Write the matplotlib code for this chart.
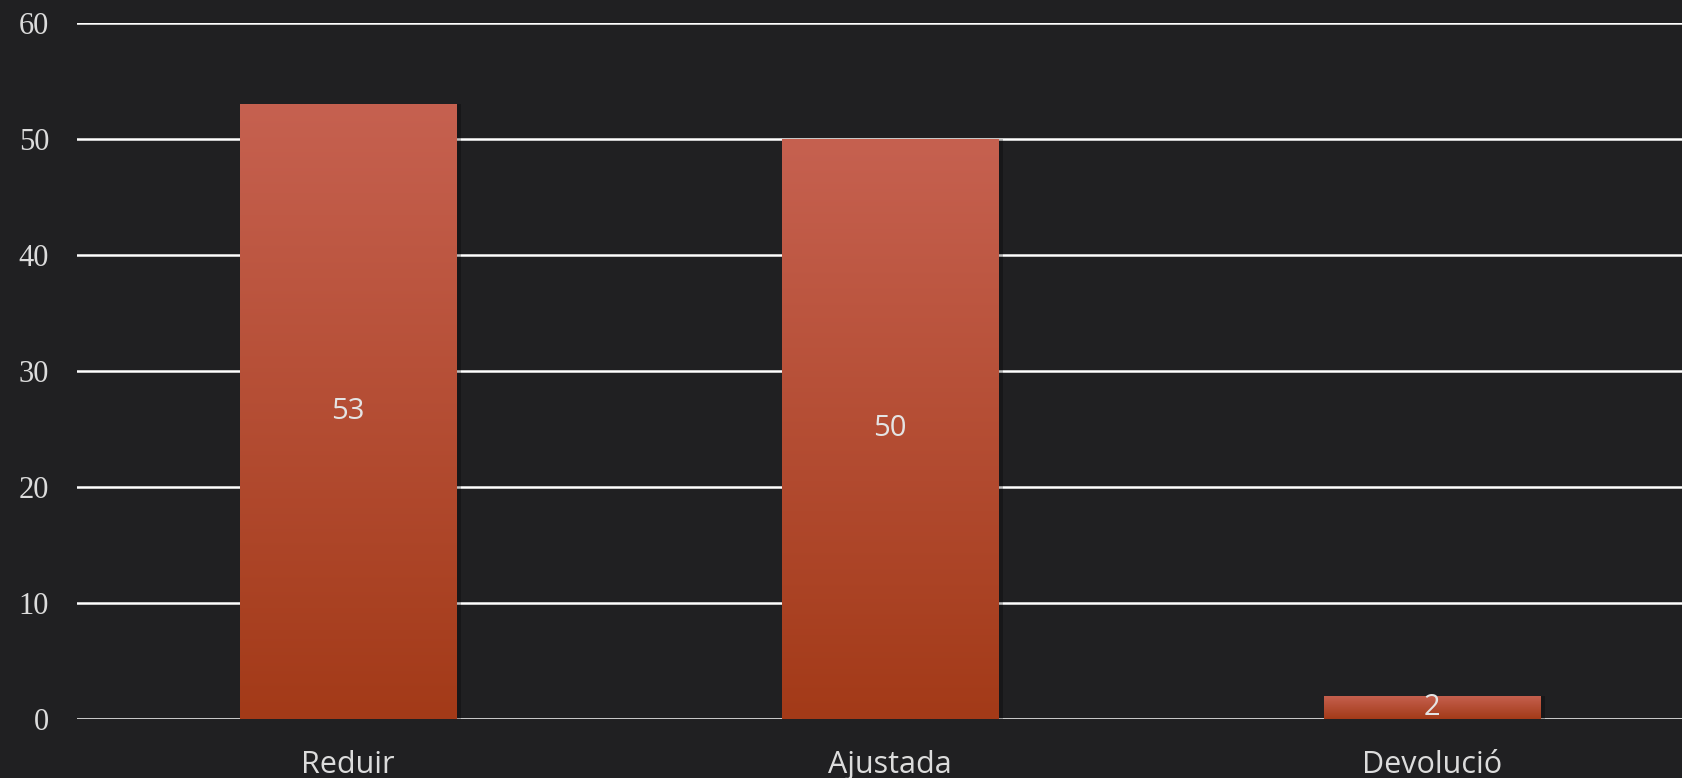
import numpy as np
import matplotlib
matplotlib.use("Agg")
from matplotlib import pyplot as plt
from matplotlib.colors import LinearSegmentedColormap

categories = ["Reduir", "Ajustada", "Devolució"]
values = [53, 50, 2]
yticks = [0, 10, 20, 30, 40, 50, 60]

bg = "#202022"
grad = LinearSegmentedColormap.from_list("bar", ["#a33a18", "#c66150"])

fig = plt.figure(figsize=(16.83, 7.78), dpi=100, facecolor=bg)
# axes runs a little past the right edge like the original
ax = fig.add_axes([77 / 1683, 59 / 778, 1626 / 1683, 696 / 778], facecolor=bg)

x = np.arange(len(categories))
bars = ax.bar(x, values, width=0.4, color="none", zorder=3)

ax.set_xlim(-0.5, 2.5)
ax.set_ylim(0, 60)

# gradient fill + soft shadow
gimg = np.linspace(0, 1, 256).reshape(-1, 1)
for b, v in zip(bars, values):
    x0 = b.get_x()
    w = b.get_width()
    ax.bar(x0 + w / 2 + 0.006, v, width=w + 0.006, color="black", alpha=0.25, zorder=2)
    im = ax.imshow(gimg, cmap=grad, origin="lower", aspect="auto",
                   extent=[x0, x0 + w, 0, v], zorder=3)
    im.set_clip_path(b)
    ax.text(x0 + w / 2, v / 2, str(v), ha="center", va="center",
            color="#e4e4e4", fontsize=21, family="Open Sans", zorder=4)

ax.set_yticks(yticks)
ax.yaxis.grid(True, color="white", linewidth=1.8, zorder=1)
ax.set_axisbelow(True)
for s in ax.spines.values():
    s.set_visible(False)
ax.tick_params(axis="both", length=0)
ax.tick_params(axis="y", pad=20, labelsize=22, labelcolor="#dcdcdc")
ax.tick_params(axis="x", pad=22, labelsize=22, labelcolor="#dcdcdc")
for t in ax.get_yticklabels():
    t.set_family("Liberation Serif")
ax.set_xticks(x)
ax.set_xticklabels(categories, family="Open Sans")

plt.savefig("out.png", dpi=100, facecolor=bg)
plt.close()
